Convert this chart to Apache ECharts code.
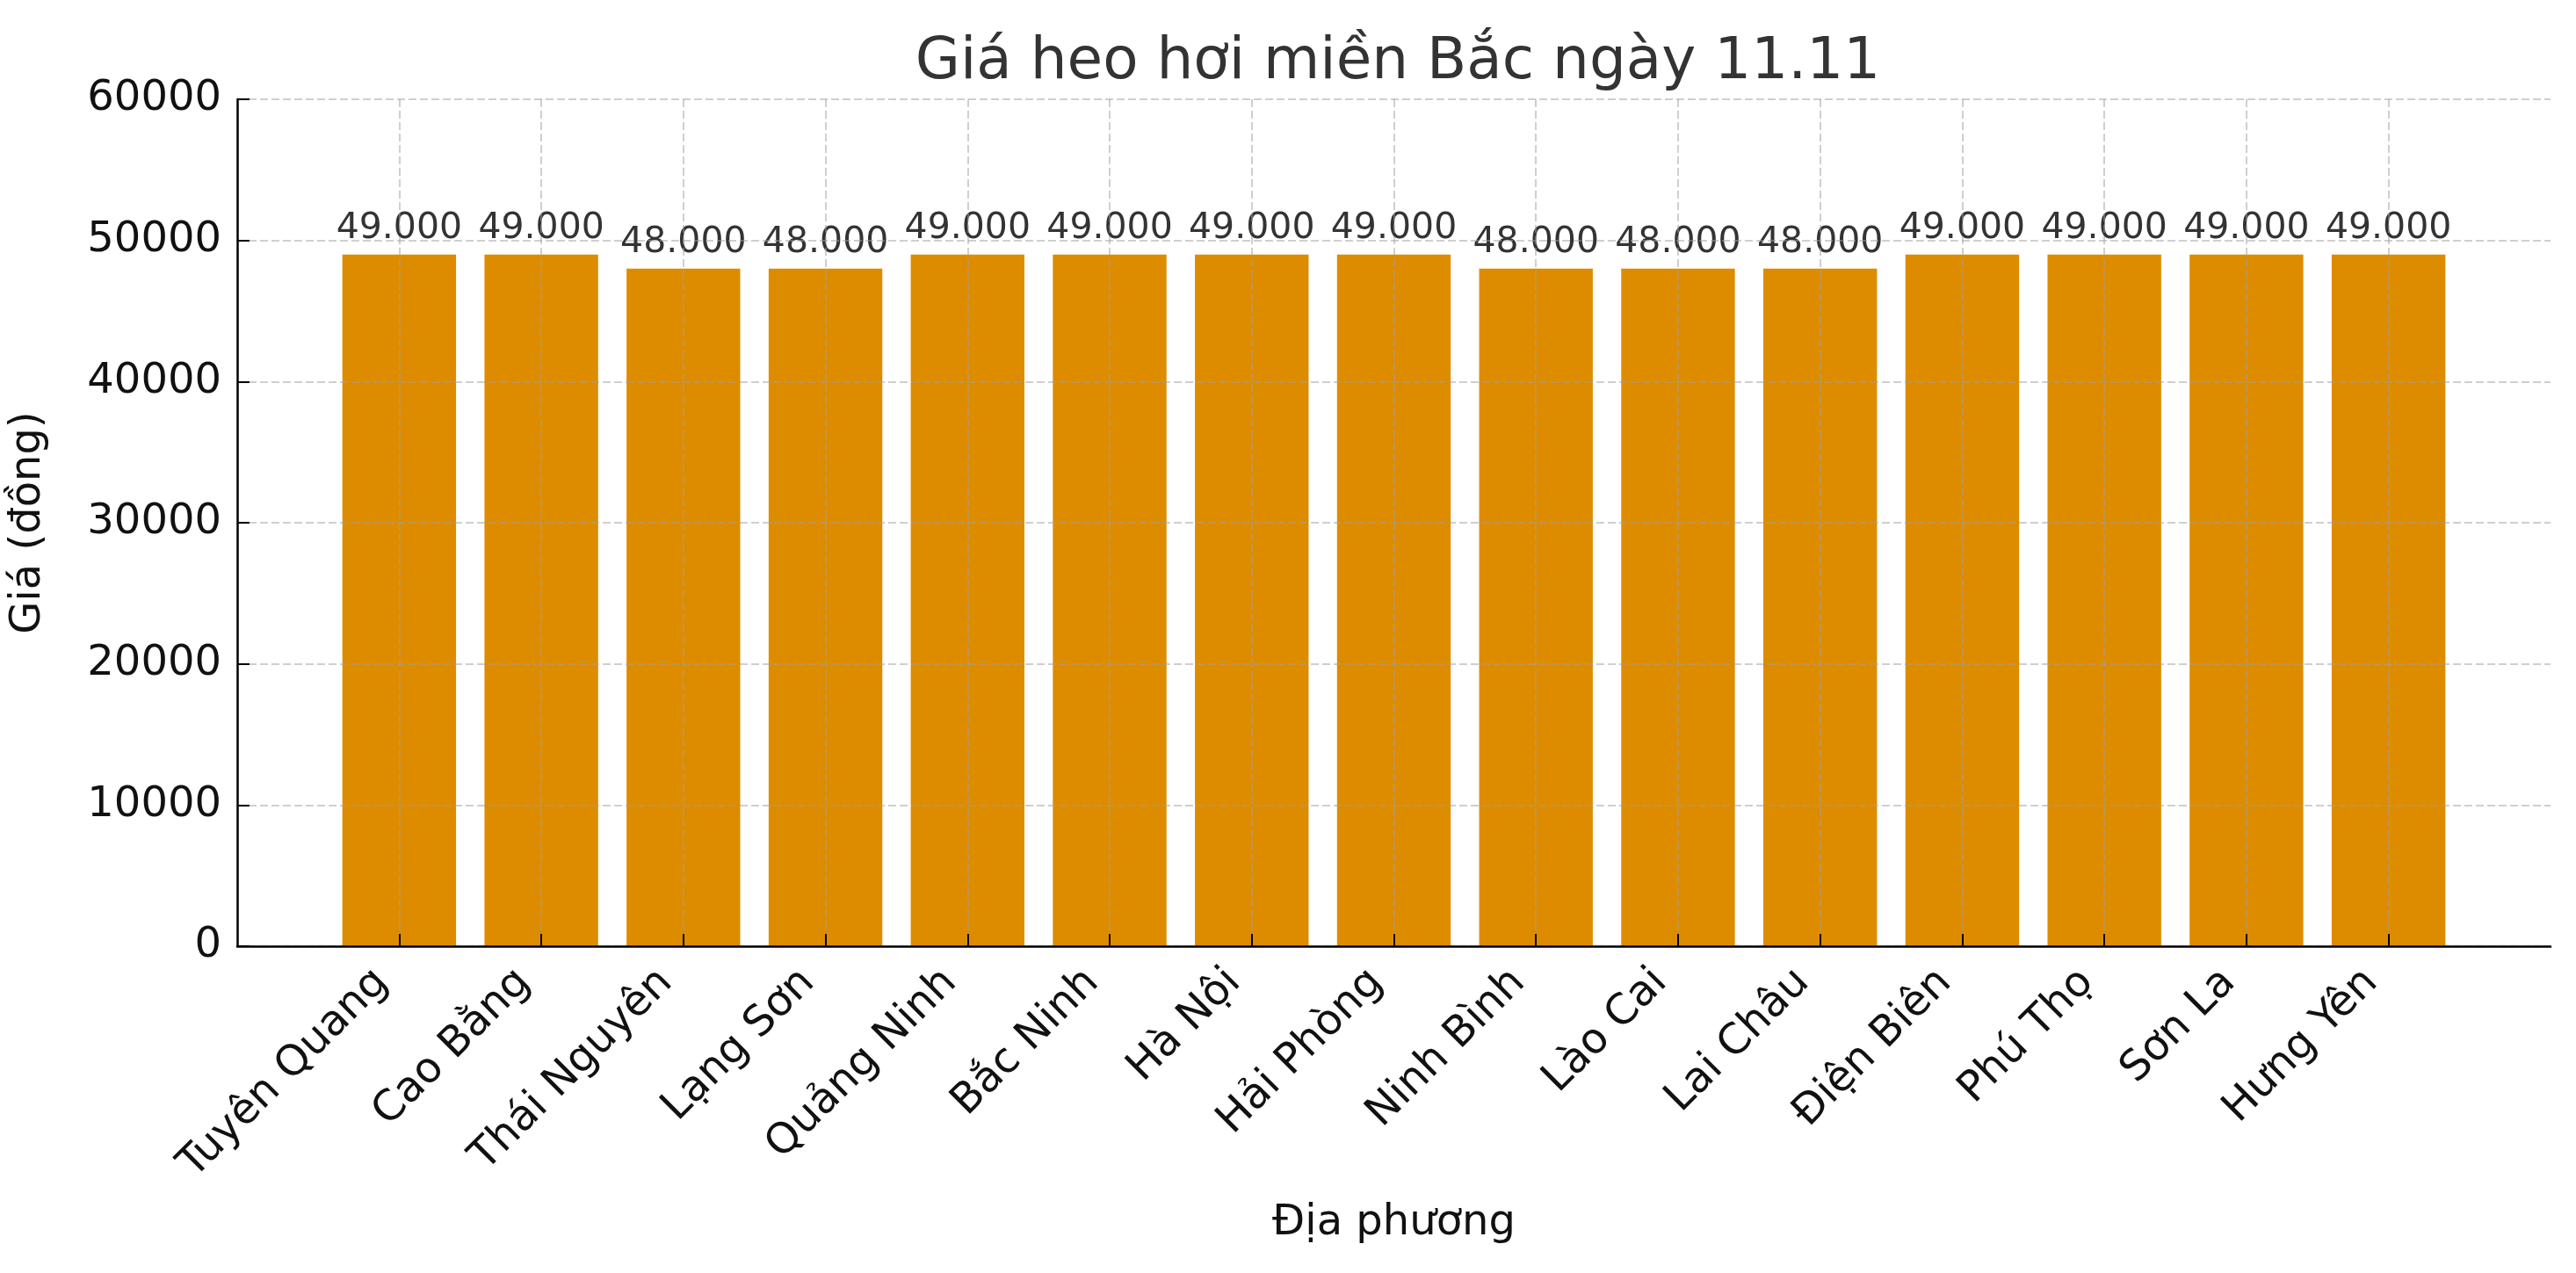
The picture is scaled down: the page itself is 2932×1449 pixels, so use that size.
<!DOCTYPE html>
<html>
<head>
<meta charset="utf-8">
<title>Giá heo hơi miền Bắc ngày 11.11</title>
<script src="https://cdn.jsdelivr.net/npm/echarts@6/dist/echarts.min.js"></script>
<style>
  html, body { margin: 0; padding: 0; background: #fff; }
  #chart { width: 2932px; height: 1449px; }
</style>
</head>
<body>
<div id="chart"></div>
<script>
// provinces and prices (dong / kg)
var provinces = ['Tuyên Quang', 'Cao Bằng', 'Thái Nguyên', 'Lạng Sơn', 'Quảng Ninh',
    'Bắc Ninh', 'Hà Nội', 'Hải Phòng', 'Ninh Bình', 'Lào Cai', 'Lai Châu',
    'Điện Biên', 'Phú Thọ', 'Sơn La', 'Hưng Yên'];
var prices = [49000, 49000, 48000, 48000, 49000, 49000, 49000, 49000,
    48000, 48000, 48000, 49000, 49000, 49000, 49000];
var yTicks = [0, 10000, 20000, 30000, 40000, 50000, 60000];

var FONT = 'DejaVu Sans';

// matplotlib-like margins around bars: 5% of data span on each side
var positions = provinces.map(function (p, i) { return i; });
var span = (provinces.length - 1) + 0.8;
var pad = span * 0.05;
var xMin = -0.4 - pad;
var xMax = provinces.length - 1 + 0.4 + pad;

function dotThousands(v) {
    return String(v).replace(/\B(?=(\d{3})+(?!\d))/g, '.');
}

var barData = prices.map(function (v, i) { return [i, v]; });

var chart = echarts.init(document.getElementById('chart'));
chart.setOption({
    animation: false,
    backgroundColor: '#ffffff',
    textStyle: { fontFamily: FONT },
    title: {
        text: 'Giá heo hơi miền Bắc ngày 11.11',
        left: 1586,
        top: 34,
        textAlign: 'center',
        textStyle: { fontFamily: FONT, fontSize: 66, fontWeight: 'normal', color: '#333333' }
    },
    grid: { left: 270, right: 29, top: 113, bottom: 372, containLabel: false },
    xAxis: {
        type: 'value',
        min: xMin,
        max: xMax,
        z: 5,
        name: 'Địa phương',
        nameLocation: 'middle',
        nameGap: 292,
        nameTextStyle: { fontFamily: FONT, fontSize: 48, color: '#111' },
        axisLine: { show: true, onZero: false, lineStyle: { color: '#000', width: 2.5 } },
        axisTick: { show: true, inside: true, length: 14, customValues: positions,
            lineStyle: { color: '#000', width: 2 } },
        axisLabel: {
            customValues: positions,
            rotate: 45,
            margin: 14,
            padding: [0, 28, 0, 0],
            fontFamily: FONT,
            fontSize: 48,
            color: '#111',
            formatter: function (v) { return provinces[Math.round(v)] || ''; }
        },
        splitLine: { show: true, lineStyle: { color: 'rgba(160,160,160,0.5)', width: 2, type: [9, 4] } }
    },
    yAxis: {
        type: 'value',
        min: yTicks[0],
        max: yTicks[yTicks.length - 1],
        interval: 10000,
        z: 5,
        name: 'Giá (đồng)',
        nameLocation: 'middle',
        nameGap: 213,
        nameTextStyle: { fontFamily: FONT, fontSize: 48, color: '#111' },
        axisLine: { show: true, onZero: false, lineStyle: { color: '#000', width: 2.5 } },
        axisTick: { show: true, inside: true, length: 14, lineStyle: { color: '#000', width: 2 } },
        axisLabel: { margin: 18, fontFamily: FONT, fontSize: 48, color: '#111',
            formatter: function (v) { return String(v); } },
        splitLine: { show: true, lineStyle: { color: 'rgba(160,160,160,0.5)', width: 2, type: [9, 4] } }
    },
    series: [{
        type: 'bar',
        data: barData,
        barWidth: '80%',
        itemStyle: { color: '#dd8c00' },
        label: {
            show: true,
            position: 'top',
            distance: 9,
            fontFamily: FONT,
            fontSize: 41,
            color: '#333333',
            formatter: function (p) { return dotThousands(p.value[1]); }
        }
    }]
});
</script>
</body>
</html>
